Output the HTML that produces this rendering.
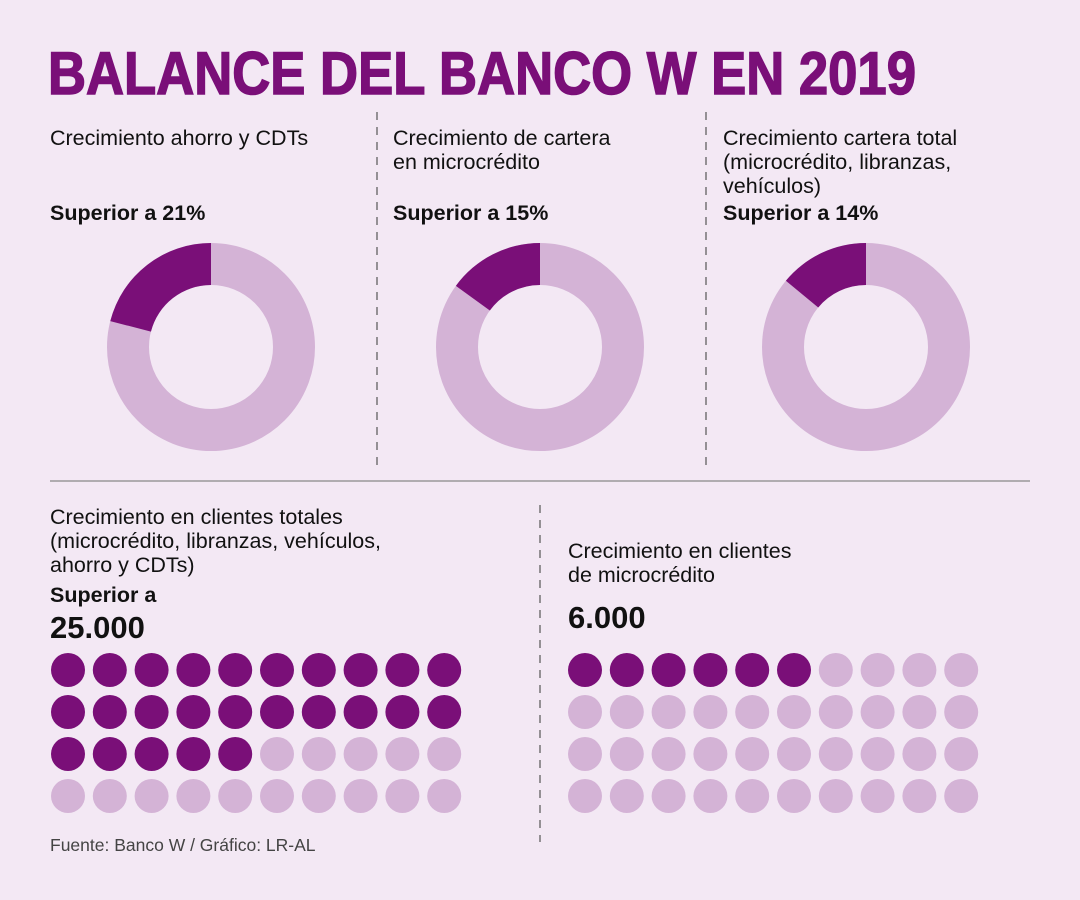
<!DOCTYPE html>
<html><head><meta charset="utf-8"><style>
html,body{margin:0;padding:0;background:#f3e8f4;}
svg{display:block;font-family:"Liberation Sans",sans-serif;}
</style></head><body>
<svg id="chart" width="1080" height="900" viewBox="0 0 1080 900">
<rect width="1080" height="900" fill="#f3e8f4"/>
<text x="48" y="94" font-size="60" font-weight="bold" fill="#7a0f78" stroke="#7a0f78" stroke-width="1.5" textLength="868" lengthAdjust="spacingAndGlyphs">BALANCE DEL BANCO W EN 2019</text>
<g stroke="#555" stroke-width="1.2" stroke-dasharray="8,7">
<line x1="377" y1="112" x2="377" y2="465"/>
<line x1="706" y1="112" x2="706" y2="465"/>
<line x1="540" y1="505" x2="540" y2="842"/>
</g>
<line x1="50" y1="481" x2="1030" y2="481" stroke="#888" stroke-width="1.2"/>
<g font-size="21.5" fill="#111">
<text x="50" y="145">Crecimiento ahorro y CDTs</text>
<text x="50" y="220" font-weight="bold">Superior a 21%</text>
<text x="393" y="145">Crecimiento de cartera</text>
<text x="393" y="169">en microcrédito</text>
<text x="393" y="220" font-weight="bold">Superior a 15%</text>
<text x="723" y="145">Crecimiento cartera total</text>
<text x="723" y="169">(microcrédito, libranzas,</text>
<text x="723" y="193">vehículos)</text>
<text x="723" y="220" font-weight="bold">Superior a 14%</text>
<text x="50" y="524">Crecimiento en clientes totales</text>
<text x="50" y="548">(microcrédito, libranzas, vehículos,</text>
<text x="50" y="572">ahorro y CDTs)</text>
<text x="50" y="602" font-weight="bold">Superior a</text>
<text x="50" y="638" font-weight="bold" font-size="31">25.000</text>
<text x="568" y="558">Crecimiento en clientes</text>
<text x="568" y="582">de microcrédito</text>
<text x="568" y="628" font-weight="bold" font-size="31">6.000</text>
<text x="50" y="851" font-size="17.5" fill="#444">Fuente: Banco W / Gráfico: LR-AL</text>
</g>
<g id="donuts"></g>
<g id="dots"></g>
</svg>
<script>
const donutNames = ['ahorro', 'cartera-micro', 'cartera-total'];
const donutValues = [21, 15, 14];
const dotNames = ['clientes-totales', 'clientes-micro'];
const dotValues = [25, 6];

const NS = 'http://www.w3.org/2000/svg';
const DARK = '#7a0f78', LIGHT = '#d4b3d6';
const donutCx = [211, 540, 866], donutCy = 347, R = 104, r = 62;
let donutCx0 = 0;
function pt(rad, a){ return [donutCx0 + rad*Math.sin(a), donutCy - rad*Math.cos(a)]; }
const dg = document.getElementById('donuts');
donutValues.forEach((v, i) => {
  donutCx0 = donutCx[i];
  const ring = document.createElementNS(NS, 'circle');
  ring.setAttribute('cx', donutCx0); ring.setAttribute('cy', donutCy);
  ring.setAttribute('r', (R + r) / 2); ring.setAttribute('fill', 'none');
  ring.setAttribute('stroke', LIGHT); ring.setAttribute('stroke-width', R - r);
  
  
  dg.appendChild(ring);
  const a0 = -v / 100 * 2 * Math.PI, a1 = 0;
  const large = v > 50 ? 1 : 0;
  const p1 = pt(R, a0), p2 = pt(R, a1), p3 = pt(r, a1), p4 = pt(r, a0);
  const path = document.createElementNS(NS, 'path');
  path.setAttribute('d', `M${p1[0]},${p1[1]} A${R},${R} 0 ${large} 1 ${p2[0]},${p2[1]} L${p3[0]},${p3[1]} A${r},${r} 0 ${large} 0 ${p4[0]},${p4[1]} Z`);
  path.setAttribute('fill', DARK);
  
  
  dg.appendChild(path);
});
const dotX0 = [68, 585], dotStep = 41.8, dotY0 = 670, rowStep = 42, cols = 10, rows = 4;
const gg = document.getElementById('dots');
dotValues.forEach((v, g) => {
  for (let k = 0; k < cols * rows; k++) {
    const c = document.createElementNS(NS, 'circle');
    c.setAttribute('cx', dotX0[g] + (k % cols) * dotStep);
    c.setAttribute('cy', dotY0 + Math.floor(k / cols) * rowStep);
    c.setAttribute('r', 17);
    c.setAttribute('fill', k < v ? DARK : LIGHT);
    
    
    gg.appendChild(c);
  }
});
</script>
</body></html>
